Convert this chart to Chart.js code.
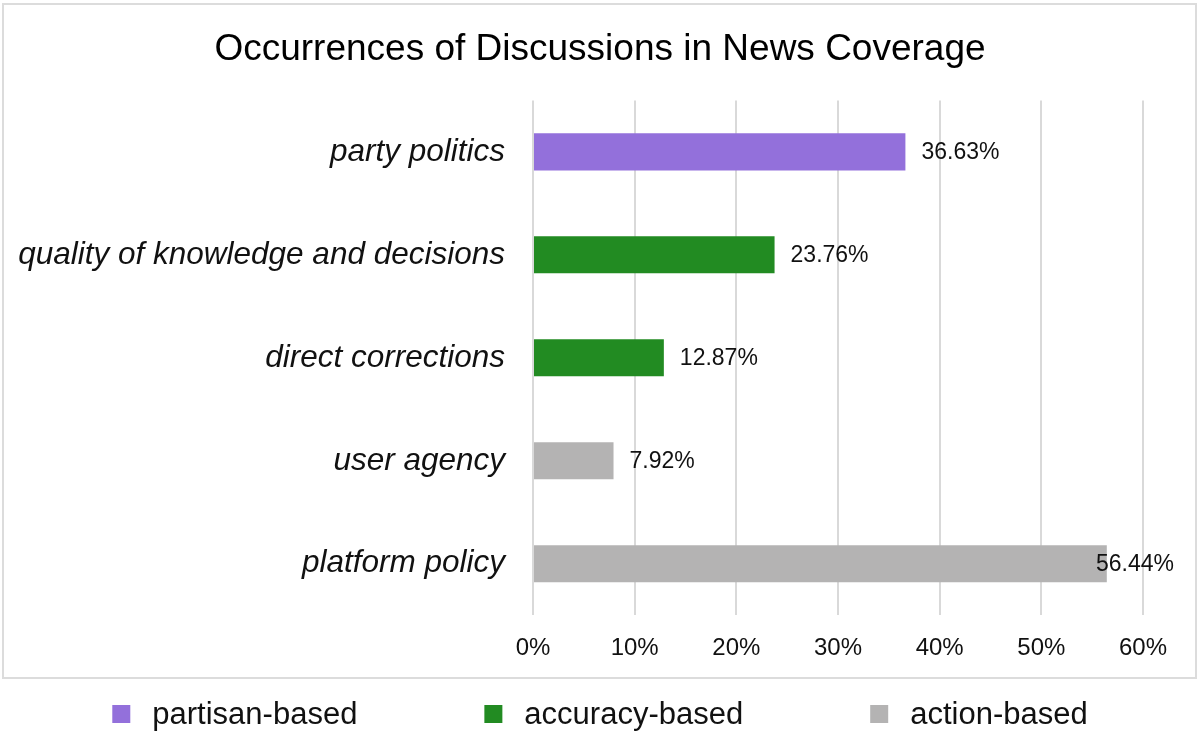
<!DOCTYPE html>
<html>
<head>
<meta charset="utf-8">
<title>Occurrences of Discussions in News Coverage</title>
<script src="https://cdn.jsdelivr.net/npm/chart.js@4.4.1/dist/chart.umd.min.js"></script>
<style>
    html, body { margin: 0; padding: 0; background: #fff; }
    #wrap { width: 1200px; height: 749px; position: relative; }
</style>
</head>
<body>
<div id="wrap"><canvas id="newsChart"></canvas></div>
<script>
// Datos
const categories = ['party politics', 'quality of knowledge and decisions', 'direct corrections', 'user agency', 'platform policy'];
const values = [36.63, 23.76, 12.87, 7.92, 56.44];
const barGroups = [0, 1, 1, 2, 2];
const groupNames = ['partisan-based', 'accuracy-based', 'action-based'];
const xTicks = [0, 10, 20, 30, 40, 50, 60];

const groupColors = ['#9370db', '#228b22', '#b4b3b3'];
const FONT = '"Liberation Sans", Arial, sans-serif';

// Marco gris alrededor del gráfico
const framePlugin = {
    id: 'frame',
    beforeDraw(chart) {
        const c = chart.ctx;
        c.save();
        c.strokeStyle = '#dcdcdc';
        c.lineWidth = 2;
        c.strokeRect(3, 4, 1193, 674);
        c.restore();
    }
};

// Etiquetas de valor al final de cada barra
const valueLabels = {
    id: 'valueLabels',
    afterDatasetsDraw(chart) {
        const c = chart.ctx;
        const meta = chart.getDatasetMeta(0);
        c.save();
        c.font = '23px ' + FONT;
        c.fillStyle = '#111';
        c.textBaseline = 'middle';
        c.textAlign = 'left';
        meta.data.forEach((bar, i) => {
            const txt = values[i].toFixed(2) + '%';
            const w = c.measureText(txt).width;
            const x = Math.min(bar.x + 16, chart.width - 26 - w);
            c.fillText(txt, x, bar.y + 1);
        });
        c.restore();
    }
};

// Leyenda propia debajo del marco
const groupLegend = {
    id: 'groupLegend',
    afterDraw(chart) {
        const c = chart.ctx;
        const box = 18, gapText = 22, gapItem = 127, cy = 714;
        c.save();
        c.font = '31px ' + FONT;
        c.textBaseline = 'middle';
        const widths = groupNames.map(n => box + gapText + c.measureText(n).width);
        const total = widths.reduce((a, b) => a + b, 0) + gapItem * (groupNames.length - 1);
        let x = (chart.width - total) / 2;
        groupNames.forEach((name, i) => {
            c.fillStyle = groupColors[i];
            c.fillRect(x, cy - box / 2, box, box);
            c.fillStyle = '#111';
            c.fillText(name, x + box + gapText, cy + 1);
            x += widths[i] + gapItem;
        });
        c.restore();
    }
};

document.addEventListener('DOMContentLoaded', function() {
    const ctx = document.getElementById('newsChart');

    new Chart(ctx, {
        type: 'bar',
        data: {
            labels: categories,
            datasets: [{
                label: 'Occurrences',
                data: values,
                backgroundColor: barGroups.map(g => groupColors[g]),
                borderWidth: 0,
                barPercentage: 0.36,
                categoryPercentage: 1.0
            }]
        },
        options: {
            indexAxis: 'y',
            responsive: true,
            maintainAspectRatio: false,
            animation: false,
            layout: {
                padding: { left: 0, right: 0, top: 0, bottom: 67 }
            },
            plugins: {
                legend: { display: false },
                tooltip: { enabled: false },
                title: {
                    display: true,
                    text: 'Occurrences of Discussions in News Coverage',
                    color: '#000',
                    font: { family: FONT, size: 37, weight: 'normal' },
                    padding: { top: 28, bottom: 28 }
                }
            },
            scales: {
                x: {
                    min: 0,
                    max: 60,
                    afterBuildTicks(scale) {
                        scale.ticks = xTicks.map(v => ({ value: v }));
                    },
                    grid: {
                        color: '#d9d9d9',
                        lineWidth: 2,
                        drawTicks: false
                    },
                    border: { display: false },
                    ticks: {
                        color: '#111',
                        font: { family: FONT, size: 24 },
                        padding: 19,
                        callback: v => v + '%'
                    }
                },
                y: {
                    afterFit(scale) {
                        scale.width = 533;
                    },
                    grid: { display: false },
                    border: { display: false },
                    ticks: {
                        color: '#111',
                        padding: 20,
                        font: { family: FONT, size: 31.5, style: 'italic' }
                    }
                },
                // eje vacío a la derecha, solo reserva el margen
                yRight: {
                    type: 'linear',
                    position: 'right',
                    afterFit(scale) {
                        scale.width = 57;
                    },
                    grid: { display: false },
                    border: { display: false },
                    ticks: { display: false }
                }
            }
        },
        plugins: [framePlugin, valueLabels, groupLegend]
    });
});
</script>
</body>
</html>
